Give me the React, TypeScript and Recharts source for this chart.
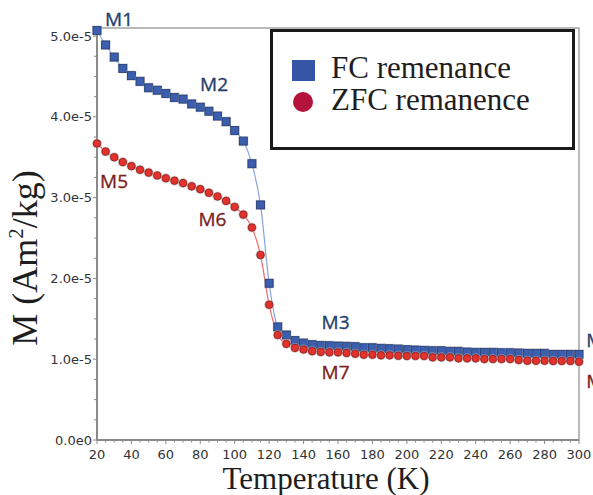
import { LineChart, Line, XAxis, YAxis, Legend, ReferenceArea, ReferenceDot } from "recharts";

// temperature steps (K)
const temps = [
  20, 25, 30, 35, 40, 45, 50, 55, 60, 65, 70, 75, 80, 85, 90, 95, 100, 105, 110, 115,
  120, 125, 130, 135, 140, 145, 150, 155, 160, 165, 170, 175, 180, 185, 190, 195, 200, 205,
  210, 215, 220, 225, 230, 235, 240, 245, 250, 255, 260, 265, 270, 275, 280, 285, 290, 295, 300,
];

// M in Am2/kg
const fcRemanence = [
  5.07e-5, 4.89e-5, 4.74e-5, 4.6e-5, 4.51e-5, 4.44e-5, 4.36e-5, 4.33e-5, 4.29e-5, 4.24e-5,
  4.22e-5, 4.16e-5, 4.12e-5, 4.07e-5, 4.01e-5, 3.94e-5, 3.83e-5, 3.7e-5, 3.42e-5, 2.91e-5,
  1.94e-5, 1.4e-5, 1.3e-5, 1.23e-5, 1.2e-5, 1.18e-5, 1.17e-5, 1.167e-5, 1.163e-5, 1.16e-5,
  1.155e-5, 1.142e-5, 1.142e-5, 1.135e-5, 1.13e-5, 1.126e-5, 1.118e-5, 1.114e-5, 1.11e-5, 1.105e-5,
  1.105e-5, 1.098e-5, 1.098e-5, 1.089e-5, 1.085e-5, 1.085e-5, 1.085e-5, 1.08e-5, 1.08e-5, 1.077e-5,
  1.073e-5, 1.073e-5, 1.073e-5, 1.06e-5, 1.06e-5, 1.06e-5, 1.06e-5,
];

const zfcRemanence = [
  3.67e-5, 3.57e-5, 3.5e-5, 3.44e-5, 3.39e-5, 3.345e-5, 3.31e-5, 3.275e-5, 3.24e-5, 3.21e-5,
  3.18e-5, 3.14e-5, 3.105e-5, 3.06e-5, 3.015e-5, 2.96e-5, 2.885e-5, 2.79e-5, 2.63e-5, 2.29e-5,
  1.675e-5, 1.3e-5, 1.19e-5, 1.14e-5, 1.12e-5, 1.1e-5, 1.09e-5, 1.085e-5, 1.085e-5, 1.077e-5,
  1.068e-5, 1.056e-5, 1.056e-5, 1.048e-5, 1.048e-5, 1.043e-5, 1.04e-5, 1.04e-5, 1.04e-5, 1.023e-5,
  1.023e-5, 1.023e-5, 1.011e-5, 1.011e-5, 1.011e-5, 1.002e-5, 1.002e-5, 1.002e-5, 1.002e-5, 0.99e-5,
  0.981e-5, 0.981e-5, 0.981e-5, 0.978e-5, 0.978e-5, 0.978e-5, 0.969e-5,
];

const xMajorTicks = [20, 40, 60, 80, 100, 120, 140, 160, 180, 200, 220, 240, 260, 280, 300];
const xMinorTicks = [
  20, 25, 30, 35, 40, 45, 50, 55, 60, 65, 70, 75, 80, 85, 90, 95, 100, 105, 110, 115,
  120, 125, 130, 135, 140, 145, 150, 155, 160, 165, 170, 175, 180, 185, 190, 195, 200, 205,
  210, 215, 220, 225, 230, 235, 240, 245, 250, 255, 260, 265, 270, 275, 280, 285, 290, 295, 300,
];
const yMajorTicks = [0, 1e-5, 2e-5, 3e-5, 4e-5, 5e-5];
const yTickLabels = ["0.0e0", "1.0e-5", "2.0e-5", "3.0e-5", "4.0e-5", "5.0e-5"];
const yMinorTicks = [
  0, 0.25e-5, 0.5e-5, 0.75e-5, 1e-5, 1.25e-5, 1.5e-5, 1.75e-5, 2e-5, 2.25e-5, 2.5e-5, 2.75e-5,
  3e-5, 3.25e-5, 3.5e-5, 3.75e-5, 4e-5, 4.25e-5, 4.5e-5, 4.75e-5, 5e-5,
];

const BLUE_TXT = "#263f6e";
const RED_TXT = "#7c1f22";

const annotations = [
  { text: "M1", T: 32.8, m: 5.125e-5, color: BLUE_TXT, anchor: "middle" },
  { text: "M2", T: 88, m: 4.32e-5, color: BLUE_TXT, anchor: "middle" },
  { text: "M3", T: 158.6, m: 1.374e-5, color: BLUE_TXT, anchor: "middle" },
  { text: "M4", T: 304.2, m: 1.151e-5, color: BLUE_TXT, anchor: "start" },
  { text: "M5", T: 29.9, m: 3.12e-5, color: RED_TXT, anchor: "middle" },
  { text: "M6", T: 87.1, m: 2.649e-5, color: RED_TXT, anchor: "middle" },
  { text: "M7", T: 158.6, m: 0.755e-5, color: RED_TXT, anchor: "middle" },
  { text: "M8", T: 304.2, m: 0.644e-5, color: RED_TXT, anchor: "start" },
];

const legendItems = [
  { name: "FC remenance", shape: "square", color: "#3555a6" },
  { name: "ZFC remanence", shape: "circle", color: "#b4133c" },
];

const data = temps.map((T, i) => ({ T, fc: fcRemanence[i], zfc: zfcRemanence[i] }));

const AXIS = "#8a8a8a";
const TICK_FONT = "DejaVu Sans, Verdana, sans-serif";
const SERIF = "Liberation Serif, Times New Roman, serif";

const XTick = ({ x, y, payload }: any) => {
  const major = xMajorTicks.includes(payload.value);
  return (
    <g>
      <line x1={x} x2={x} y1={y} y2={y + (major ? 4 : 2.5)} stroke={AXIS} strokeWidth={1} />
      {major && (
        <text x={x} y={y + 19} textAnchor="middle" fontSize={13} fill="#333" fontFamily={TICK_FONT}>
          {payload.value}
        </text>
      )}
    </g>
  );
};

const YTick = ({ x, y, payload }: any) => {
  const idx = yMajorTicks.findIndex((t) => Math.abs(t - payload.value) < 1e-9);
  const major = idx >= 0;
  return (
    <g>
      <line x1={x} x2={x - (major ? 4 : 3)} y1={y} y2={y} stroke={AXIS} strokeWidth={1} />
      {major && (
        <text x={x - 5} y={y + 4.5} textAnchor="end" fontSize={13} fill="#333" fontFamily={TICK_FONT}>
          {yTickLabels[idx]}
        </text>
      )}
    </g>
  );
};

const squareDot = (p: any) => {
  const { cx, cy, index } = p;
  if (cx == null || cy == null) return <g key={`fc${index}`} />;
  return (
    <g key={`fc${index}`}>
      <rect x={cx - 5} y={cy - 5} width={10} height={10} fill="#b5b5b5" opacity={0.55} />
      <rect x={cx - 4} y={cy - 4} width={8} height={8} fill="#3b5fae" stroke="#20376e" strokeWidth={0.8} />
    </g>
  );
};

const circleDot = (p: any) => {
  const { cx, cy, index } = p;
  if (cx == null || cy == null) return <g key={`zfc${index}`} />;
  return (
    <g key={`zfc${index}`}>
      <circle cx={cx} cy={cy} r={5} fill="#b5b5b5" opacity={0.55} />
      <circle cx={cx} cy={cy} r={3.8} fill="#e2322c" stroke="#8e1b1b" strokeWidth={0.8} />
    </g>
  );
};

const LegendBox = () => (
  <svg width={305} height={121} style={{ display: "block" }}>
    <rect x={1.5} y={1.5} width={302} height={118} fill="#fff" stroke="#1a1a1a" strokeWidth={3} />
    {legendItems.map((it, i) => (
      <g key={it.name}>
        {it.shape === "square" ? (
          <rect x={22} y={31 + i * 32} width={23} height={21} fill={it.color} />
        ) : (
          <circle cx={33} cy={41 + i * 32} r={10} fill={it.color} />
        )}
        <text x={61} y={49 + i * 32} fontSize={31} fill="#1e1e1e" fontFamily={SERIF}>
          {it.name}
        </text>
      </g>
    ))}
  </svg>
);

export default function App() {
  return (
    <div style={{ position: "absolute", left: 0, top: 0, width: 593, height: 495, background: "#fff" }}>
      <LineChart width={593} height={495} data={data} margin={{ top: 28, right: 14, bottom: 0, left: 0 }}>
        <ReferenceArea x1={20} x2={300} y1={0} y2={5.1e-5} fill="none" stroke="#a3a3a3" strokeWidth={1.5} />
        <XAxis
          dataKey="T"
          type="number"
          domain={[20, 300]}
          ticks={xMinorTicks}
          interval={0}
          height={55}
          tickSize={0}
          tickMargin={0}
          tickLine={false}
          tick={<XTick />}
          axisLine={{ stroke: AXIS, strokeWidth: 2 }}
          label={(props: any) => {
            const vb = props.viewBox;
            return (
              <text x={vb.x + vb.width / 2 - 12} y={vb.y + 49} textAnchor="middle" fontSize={31} fill="#1e1e1e" fontFamily={SERIF}>
                Temperature (K)
              </text>
            );
          }}
        />
        <YAxis
          type="number"
          domain={[0, 5.1e-5]}
          ticks={yMinorTicks}
          interval={0}
          width={97}
          tickSize={0}
          tickMargin={0}
          tickLine={false}
          tick={<YTick />}
          axisLine={{ stroke: AXIS, strokeWidth: 2 }}
          label={() => (
            <text transform="translate(37,258) rotate(-90)" textAnchor="middle" fontSize={36} fill="#1e1e1e" fontFamily={SERIF}>
              M (Am
              <tspan fontSize={21} dy={-14}>2</tspan>
              <tspan dy={14}>/kg)</tspan>
            </text>
          )}
        />
        <Line
          dataKey="fc"
          type="monotone"
          stroke="#86a3dc"
          strokeWidth={1.2}
          dot={squareDot}
          activeDot={false}
          isAnimationActive={false}
        />
        <Line
          dataKey="zfc"
          type="monotone"
          stroke="#ef6b6b"
          strokeWidth={1.2}
          dot={circleDot}
          activeDot={false}
          isAnimationActive={false}
        />
        {annotations.map((a) => (
          <ReferenceDot
            key={a.text}
            x={a.T}
            y={a.m}
            r={0}
            fill="none"
            stroke="none"
            ifOverflow="visible"
            label={(props: any) => {
              const vb = props.viewBox;
              return (
                <text
                  x={vb.x}
                  y={vb.y}
                  textAnchor={a.anchor}
                  fontSize={19}
                  fill={a.color}
                  stroke={a.color}
                  strokeWidth={0.35}
                  fontFamily="Open Sans, sans-serif"
                >
                  {a.text}
                </text>
              );
            }}
          />
        ))}
        <Legend
          layout="vertical"
          align="center"
          verticalAlign="middle"
          wrapperStyle={{ left: 270, top: 29, width: 305, height: 121 }}
          content={() => <LegendBox />}
        />
      </LineChart>
    </div>
  );
}
